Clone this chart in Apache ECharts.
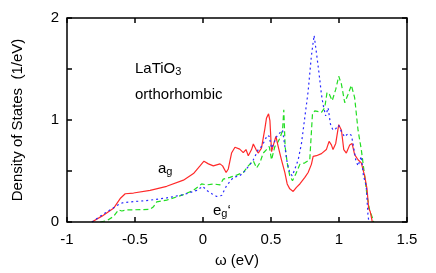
<!DOCTYPE html>
<html>
<head>
<meta charset="utf-8">
<script src="https://cdn.jsdelivr.net/npm/echarts@6/dist/echarts.min.js"></script>
<style>html,body{margin:0;padding:0;background:#fff}#c{width:436px;height:273px}</style>
</head>
<body>
<div id="c"></div>
<script>
const xTicks = [-1, -0.5, 0, 0.5, 1, 1.5];
const yTickMarks = [0, 0.5, 1, 1.5, 2];
const yTicks = [0, 1, 2];

const agX = [-0.817,-0.74,-0.658,-0.609,-0.572,-0.511,-0.389,-0.267,-0.144,-0.07,-0.022,0.007,0.04,0.076,0.125,0.144,0.17,0.186,0.21,0.235,0.27,0.296,0.316,0.333,0.357,0.37,0.39,0.406,0.43,0.455,0.467,0.482,0.492,0.504,0.521,0.536,0.553,0.577,0.602,0.619,0.638,0.663,0.687,0.712,0.749,0.773,0.797,0.81,0.834,0.871,0.907,0.927,0.944,0.956,0.976,0.998,1.018,1.035,1.054,1.079,1.096,1.115,1.14,1.164,1.189,1.206,1.218,1.23,1.245];
const agY = [0,0.06,0.134,0.23,0.277,0.284,0.31,0.35,0.41,0.475,0.55,0.596,0.57,0.55,0.57,0.55,0.485,0.52,0.676,0.733,0.714,0.68,0.71,0.65,0.71,0.765,0.71,0.676,0.724,0.915,1.02,1.06,0.995,0.69,0.77,0.84,0.74,0.61,0.485,0.373,0.325,0.3,0.34,0.373,0.437,0.485,0.565,0.644,0.65,0.67,0.71,0.79,0.756,0.71,0.77,0.954,0.9,0.71,0.676,0.756,0.77,0.66,0.61,0.58,0.45,0.325,0.134,0.1,0];

const egBlueX = [-0.817,-0.74,-0.646,-0.609,-0.585,-0.389,-0.267,-0.144,-0.046,-0.002,0.027,0.064,0.1,0.137,0.174,0.223,0.27,0.308,0.345,0.37,0.406,0.43,0.455,0.472,0.487,0.504,0.521,0.54,0.565,0.585,0.602,0.619,0.638,0.656,0.675,0.7,0.724,0.749,0.773,0.797,0.817,0.834,0.853,0.871,0.883,0.902,0.92,0.937,0.956,0.976,0.998,1.018,1.042,1.066,1.091,1.103,1.123,1.14,1.164,1.18,1.2,1.213,1.22];
const egBlueY = [0,0.07,0.15,0.18,0.19,0.214,0.236,0.268,0.31,0.35,0.31,0.278,0.25,0.26,0.357,0.437,0.453,0.5,0.565,0.61,0.71,0.74,0.8,0.85,0.84,0.724,0.77,0.835,0.874,0.9,0.74,0.58,0.485,0.453,0.517,0.61,0.77,1.03,1.28,1.63,1.83,1.66,1.46,1.25,1.15,1.04,1.12,0.96,0.9,0.915,0.947,0.884,0.835,0.867,0.85,0.77,0.61,0.55,0.644,0.45,0.357,0.07,0];

const egGreenX = [-0.756,-0.707,-0.658,-0.621,-0.597,-0.56,-0.389,-0.364,-0.34,-0.267,-0.144,-0.071,-0.01,0.027,0.076,0.125,0.149,0.198,0.247,0.296,0.333,0.37,0.394,0.418,0.443,0.467,0.487,0.504,0.528,0.545,0.565,0.585,0.594,0.604,0.619,0.638,0.658,0.682,0.712,0.749,0.785,0.805,0.822,0.871,0.895,0.912,0.93,0.95,0.976,0.998,1.018,1.042,1.066,1.091,1.115,1.14,1.164,1.189,1.206,1.225,1.245,1.255];
const egGreenY = [0,0.013,0.054,0.118,0.108,0.118,0.124,0.15,0.198,0.214,0.268,0.31,0.373,0.364,0.373,0.364,0.42,0.437,0.46,0.485,0.55,0.6,0.53,0.58,0.676,0.71,0.74,0.61,0.74,0.77,0.82,0.9,1.1,0.74,0.58,0.453,0.405,0.47,0.565,0.58,0.61,1.06,1.09,1.075,1.12,1.27,1.25,1.19,1.3,1.43,1.35,1.17,1.25,1.34,1.22,0.9,0.71,0.45,0.26,0.118,0.045,0];

const pairs = (xs, ys) => xs.map((x, i) => [x, ys[i]]);
const FONT = 'Liberation Sans, Arial, Helvetica, sans-serif';
const X_MIN = -1, X_MAX = 1.5, Y_MIN = 0, Y_MAX = 2;

// Frame and inside tick marks, placed through the axes' own scales (api.coord)
function renderFrame(params, api) {
  const bl = api.coord([X_MIN, Y_MIN]);
  const tr = api.coord([X_MAX, Y_MAX]);
  const st = {stroke: '#000', lineWidth: 1.5, fill: null};
  const kids = [{type: 'rect', shape: {x: bl[0], y: tr[1], width: tr[0] - bl[0], height: bl[1] - tr[1]},
    style: {stroke: '#000', lineWidth: 1.5, fill: 'none'}}];
  const L = 5;
  xTicks.forEach(v => {
    const px = api.coord([v, Y_MIN])[0];
    kids.push({type: 'line', shape: {x1: px, y1: bl[1], x2: px, y2: bl[1] - L}, style: st});
    kids.push({type: 'line', shape: {x1: px, y1: tr[1], x2: px, y2: tr[1] + L}, style: st});
  });
  yTickMarks.forEach(v => {
    const py = api.coord([X_MIN, v])[1];
    kids.push({type: 'line', shape: {x1: bl[0], y1: py, x2: bl[0] + L, y2: py}, style: st});
    kids.push({type: 'line', shape: {x1: tr[0], y1: py, x2: tr[0] - L, y2: py}, style: st});
  });
  return {type: 'group', children: kids};
}

const chart = echarts.init(document.getElementById('c'));
chart.setOption({
  animation: false,
  grid: {left: 67, right: 29, top: 18, bottom: 46},
  xAxis: {type: 'value', min: X_MIN, max: X_MAX, interval: 0.5,
    axisLine: {show: false, onZero: false}, axisTick: {show: false}, splitLine: {show: false},
    name: 'ω (eV)', nameLocation: 'middle', nameGap: 31,
    nameTextStyle: {fontFamily: FONT, fontSize: 15, color: '#000'},
    axisLabel: {fontFamily: FONT, fontSize: 15, color: '#000', margin: 10,
      formatter: v => xTicks.includes(v) ? String(v) : ''}},
  yAxis: {type: 'value', min: Y_MIN, max: Y_MAX, interval: 0.5,
    axisLine: {show: false, onZero: false}, axisTick: {show: false}, splitLine: {show: false},
    name: 'Density of States  (1/eV)', nameLocation: 'middle', nameGap: 42,
    nameTextStyle: {fontFamily: FONT, fontSize: 15, color: '#000'},
    axisLabel: {fontFamily: FONT, fontSize: 15, color: '#000', margin: 8,
      formatter: v => yTicks.includes(v) ? String(v) : ''}},
  series: [
    {type: 'custom', name: 'frame', renderItem: renderFrame, data: [[0, 0]], clip: false, silent: true, z: 10},
    {type: 'line', name: 'ag', data: pairs(agX, agY), symbol: 'none',
      lineStyle: {color: '#ff2a2a', width: 1.2}, z: 3},
    {type: 'line', name: 'eg green', data: pairs(egGreenX, egGreenY), symbol: 'none',
      lineStyle: {color: '#22dd22', width: 1.2, type: [5, 3]}, z: 2},
    {type: 'line', name: 'eg blue', data: pairs(egBlueX, egBlueY), symbol: 'none',
      lineStyle: {color: '#2a2aff', width: 1.2, type: [2, 3]}, z: 4}
  ],
  graphic: [
    {type: 'text', left: 135, top: 61, style: {
      text: '{m|LaTiO}{s|3}', rich: {
        m: {fontFamily: FONT, fontSize: 15, fill: '#000'},
        s: {fontFamily: FONT, fontSize: 11, fill: '#000', padding: [6, 0, 0, 0]}
      }}},
    {type: 'text', left: 135, top: 87, style: {text: 'orthorhombic', fontFamily: FONT, fontSize: 15, fill: '#000'}},
    {type: 'text', left: 158, top: 161, style: {
      text: '{m|a}{s|g}', rich: {
        m: {fontFamily: FONT, fontSize: 15, fill: '#000'},
        s: {fontFamily: FONT, fontSize: 11, fill: '#000', padding: [6, 0, 0, 0]}
      }}},
    {type: 'text', left: 213, top: 203, style: {
      text: "{m|e}{s|g}{m|‘}", rich: {
        m: {fontFamily: FONT, fontSize: 15, fill: '#000'},
        s: {fontFamily: FONT, fontSize: 11, fill: '#000', padding: [6, 0, 0, 0]}
      }}}
  ]
});
</script>
</body>
</html>
